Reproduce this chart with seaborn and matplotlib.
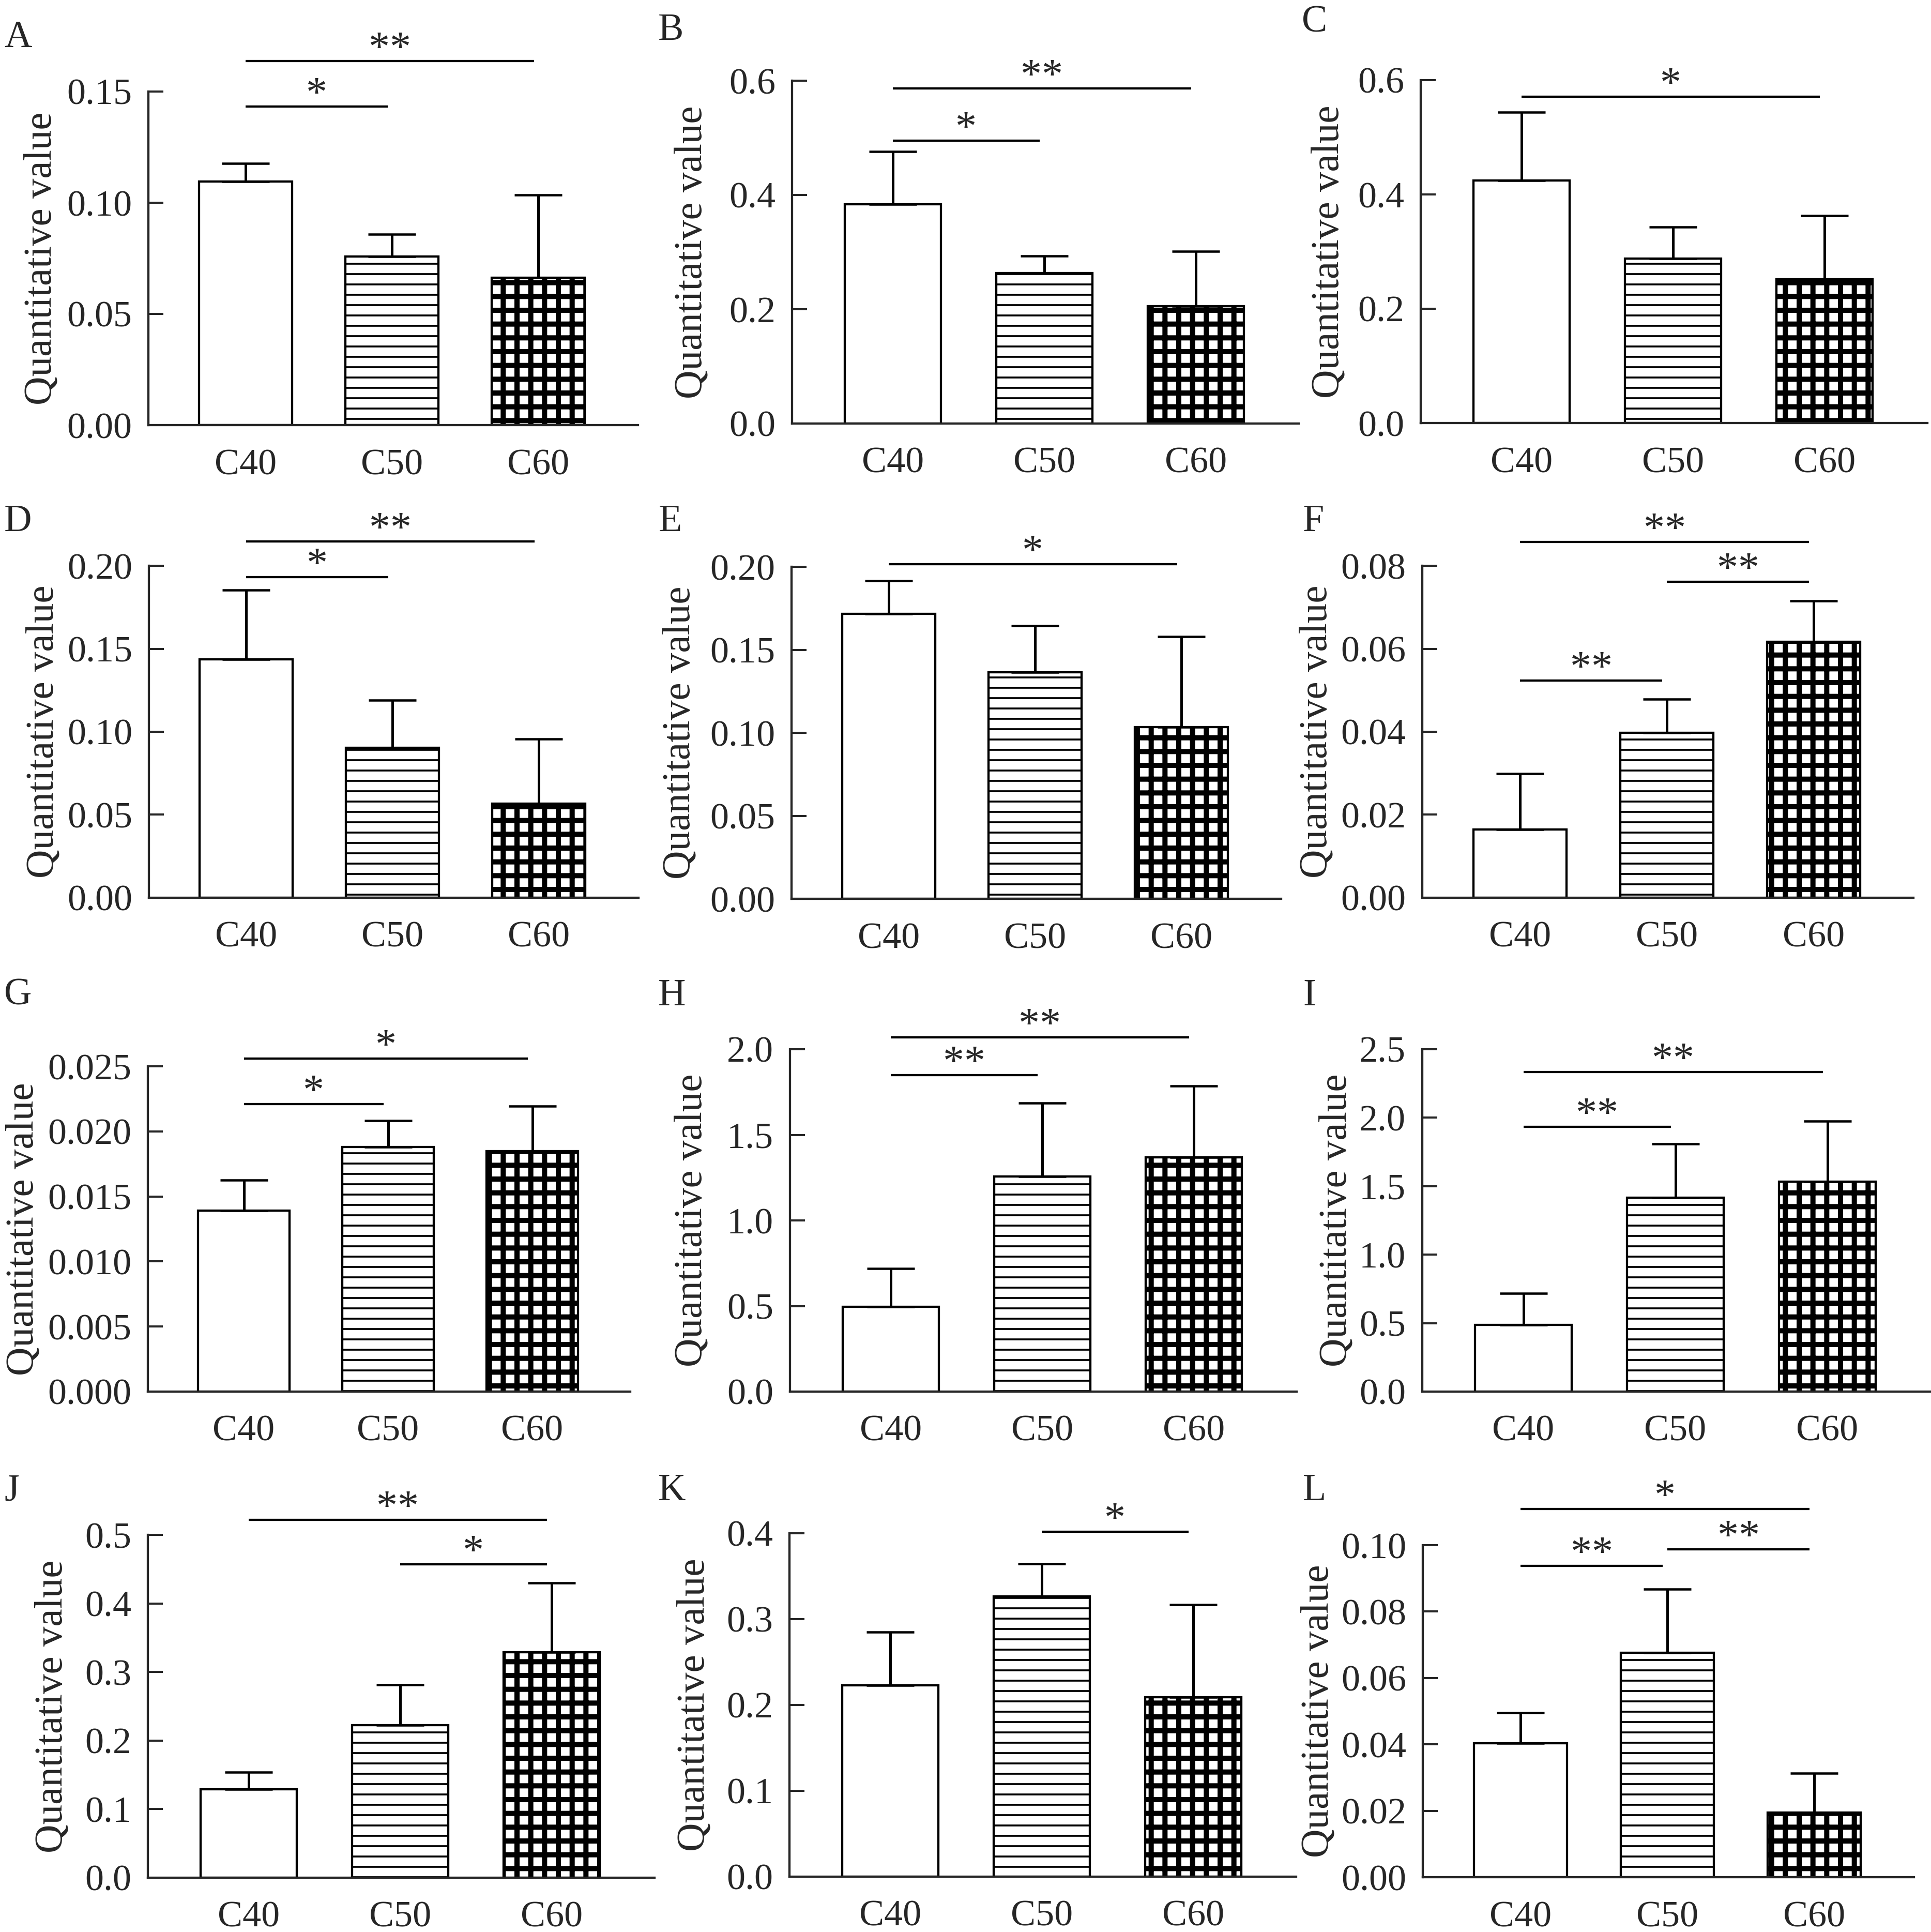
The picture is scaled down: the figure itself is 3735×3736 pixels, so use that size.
import pandas as pd
import seaborn as sns
import matplotlib.pyplot as plt

## setting y parametros
sns.set_style("ticks")
plt.rcParams['font.family'] = ['Liberation Serif', 'DejaVu Serif']

W, H = 3735, 3736
DPI = 480


def px(p):
    # pixels of the final picture -> points
    return p * 72.0 / DPI


## datos
groups = ["C40", "C50", "C60"]

a_mean = [0.1096, 0.0758, 0.0663]
a_sd = [0.0081, 0.0101, 0.0371]
a_ticks = [0.00, 0.05, 0.10, 0.15]
a_sig = [(0, 1, 0.1433, "*"), (0, 2, 0.1637, "**")]

b_mean = [0.3834, 0.263, 0.205]
b_sd = [0.0926, 0.0304, 0.096]
b_ticks = [0.0, 0.2, 0.4, 0.6]
b_sig = [(0, 1, 0.495, "*"), (0, 2, 0.586, "**")]

c_mean = [0.424, 0.288, 0.252]
c_sd = [0.120, 0.055, 0.1105]
c_ticks = [0.0, 0.2, 0.4, 0.6]
c_sig = [(0, 2, 0.571, "*")]

d_mean = [0.1436, 0.0904, 0.0568]
d_sd = [0.0419, 0.0285, 0.0389]
d_ticks = [0.00, 0.05, 0.10, 0.15, 0.20]
d_sig = [(0, 1, 0.193, "*"), (0, 2, 0.2147, "**")]

e_mean = [0.1715, 0.1366, 0.1035]
e_sd = [0.020, 0.0279, 0.0544]
e_ticks = [0.00, 0.05, 0.10, 0.15, 0.20]
e_sig = [(0, 2, 0.2015, "*")]

f_mean = [0.0164, 0.0398, 0.0617]
f_sd = [0.0135, 0.0081, 0.0098]
f_ticks = [0.00, 0.02, 0.04, 0.06, 0.08]
f_sig = [(0, 1, 0.0523, "**"), (1, 2, 0.0761, "**"), (0, 2, 0.0857, "**")]

g_mean = [0.01392, 0.01881, 0.0185]
g_sd = [0.00234, 0.0020, 0.00344]
g_ticks = [0.000, 0.005, 0.010, 0.015, 0.020, 0.025]
g_sig = [(0, 1, 0.02209, "*"), (0, 2, 0.0256, "*")]

h_mean = [0.4945, 1.256, 1.37]
h_sd = [0.2235, 0.431, 0.414]
h_ticks = [0.0, 0.5, 1.0, 1.5, 2.0]
h_sig = [(0, 1, 1.85, "**"), (0, 2, 2.068, "**")]

i_mean = [0.487, 1.416, 1.532]
i_sd = [0.231, 0.393, 0.442]
i_ticks = [0.0, 0.5, 1.0, 1.5, 2.0, 2.5]
i_sig = [(0, 1, 1.933, "**"), (0, 2, 2.333, "**")]

j_mean = [0.1293, 0.2225, 0.3288]
j_sd = [0.0243, 0.059, 0.1014]
j_ticks = [0.0, 0.1, 0.2, 0.3, 0.4, 0.5]
j_sig = [(1, 2, 0.4568, "*"), (0, 2, 0.522, "**")]

k_mean = [0.2229, 0.3265, 0.2088]
k_sd = [0.0619, 0.0378, 0.108]
k_ticks = [0.0, 0.1, 0.2, 0.3, 0.4]
k_sig = [(1, 2, 0.4018, "*")]

l_mean = [0.0404, 0.0676, 0.0195]
l_sd = [0.0092, 0.0192, 0.01185]
l_ticks = [0.00, 0.02, 0.04, 0.06, 0.08, 0.10]
l_sig = [(0, 1, 0.0938, "**"), (1, 2, 0.0987, "**"), (0, 2, 0.1109, "*")]

paneles = [
    ("A", a_mean, a_sd, a_ticks, "%.2f", a_sig),
    ("B", b_mean, b_sd, b_ticks, "%.1f", b_sig),
    ("C", c_mean, c_sd, c_ticks, "%.1f", c_sig),
    ("D", d_mean, d_sd, d_ticks, "%.2f", d_sig),
    ("E", e_mean, e_sd, e_ticks, "%.2f", e_sig),
    ("F", f_mean, f_sd, f_ticks, "%.2f", f_sig),
    ("G", g_mean, g_sd, g_ticks, "%.3f", g_sig),
    ("H", h_mean, h_sd, h_ticks, "%.1f", h_sig),
    ("I", i_mean, i_sd, i_ticks, "%.1f", i_sig),
    ("J", j_mean, j_sd, j_ticks, "%.1f", j_sig),
    ("K", k_mean, k_sd, k_ticks, "%.1f", k_sig),
    ("L", l_mean, l_sd, l_ticks, "%.2f", l_sig),
]

## ubicacion de cada panel en pixeles: eje y, arriba, abajo, paso entre barras,
## centro del ylabel, letra (x, linea base)
layout = {
    "A": (287, 177, 822, 283, 80, 8, 91),
    "B": (1532, 156, 819, 293, 1338, 1273, 77),
    "C": (2748, 155, 818, 293, 2570, 2518, 62),
    "D": (288, 1094, 1736, 283, 84, 8, 1027),
    "E": (1531, 1096, 1738, 283, 1315, 1274, 1027),
    "F": (2751, 1094, 1736, 284, 2547, 2520, 1027),
    "G": (286, 2062, 2691, 279, 45, 8, 1942),
    "H": (1528, 2029, 2691, 293, 1338, 1273, 1944),
    "I": (2751, 2029, 2691, 294, 2585, 2520, 1944),
    "J": (286, 2968, 3631, 293, 101, 8, 2901),
    "K": (1527, 2965, 3629, 293, 1343, 1273, 2901),
    "L": (2752, 2988, 3630, 284, 2550, 2520, 2901),
}

hatches = ["", "----", "+++"]
hatch_lw = [0.5, 0.55, 1.5]
XMIN, XMAX = -0.665, 2.68

fig = plt.figure(figsize=(W / DPI, H / DPI), dpi=DPI)

for nombre, media, sd, ticks, fmt, sig in paneles:
    left, top, bottom, paso, lab_x, let_x, let_y = layout[nombre]
    ancho = (XMAX - XMIN) * paso
    ax = fig.add_axes([left / W, 1 - bottom / H, ancho / W, (bottom - top) / H])

    df = pd.DataFrame({"GRUPO": groups, "VALOR": media})
    sns.barplot(data=df, x="GRUPO", y="VALOR", hue="GRUPO", palette=["white"] * 3,
                saturation=1, edgecolor="black", linewidth=px(4.3), width=0.636,
                errorbar=None, legend=False, ax=ax, zorder=2)
    for barra, hatch, hlw in zip(ax.patches, hatches, hatch_lw):
        barra.set_hatch(hatch)
        if hasattr(barra, "set_hatch_linewidth"):
            barra.set_hatch_linewidth(hlw)

    ax.errorbar([0, 1, 2], media, yerr=[[0, 0, 0], sd], fmt="none", ecolor="black",
                elinewidth=px(5), capsize=px(46), capthick=px(4.5), zorder=3)

    ax.set_xlim(XMIN, XMAX)
    ax.set_ylim(0, ticks[-1])
    ax.set_yticks(ticks)
    ax.set_yticklabels([fmt % t for t in ticks])
    ax.set_xlabel("")
    ax.set_ylabel("Quantitative value", fontsize=px(77), va="center")
    ax.yaxis.set_label_coords((lab_x - left) / ancho, 0.5)

    sns.despine(ax=ax)
    for lado in ("left", "bottom"):
        ax.spines[lado].set_linewidth(px(4.3))
    ax.tick_params(axis="y", direction="in", length=px(29), width=px(4), pad=px(32),
                   labelsize=px(72))
    ax.tick_params(axis="x", length=0, pad=px(45), labelsize=px(72))

    ## lineas de significancia
    for i, j, y, estrellas in sig:
        x0, x1 = i, j - 0.03
        ax.plot([x0, x1], [y, y], color="black", lw=px(4.3), clip_on=False,
                solid_capstyle="butt")
        ax.annotate(estrellas, xy=((x0 + x1) / 2, y), xytext=(0, px(1)),
                    textcoords="offset points", ha="center", va="baseline",
                    fontsize=px(82), annotation_clip=False)

    fig.text(let_x / W, 1 - let_y / H, nombre, fontsize=px(74), ha="left", va="baseline")

fig.savefig("out.png", dpi=DPI, facecolor="white")
